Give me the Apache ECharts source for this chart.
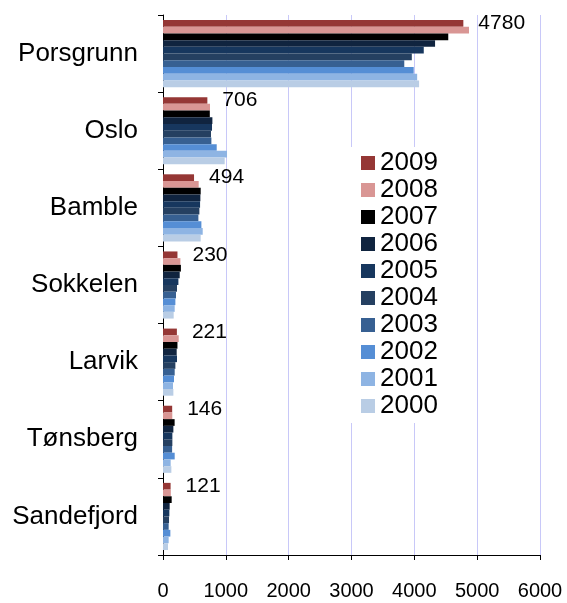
<!DOCTYPE html>
<html>
<head>
<meta charset="utf-8">
<script src="https://cdn.jsdelivr.net/npm/echarts@6/dist/echarts.min.js"></script>
<style>
  html, body { margin: 0; padding: 0; background: #fff; }
  #chart { width: 567px; height: 603px; }
</style>
</head>
<body>
<div id="chart"></div>
<script>
const places = ['Porsgrunn', 'Oslo', 'Bamble', 'Sokkelen', 'Larvik', 'Tønsberg', 'Sandefjord']
const years = ['2009', '2008', '2007', '2006', '2005', '2004', '2003', '2002', '2001', '2000']
const xTicks = [0, 1000, 2000, 3000, 4000, 5000, 6000]

// one list per year, same order as places
const v2009 = [4780, 706, 494, 230, 221, 146, 121]
const v2008 = [4870, 748, 568, 277, 250, 148, 125]
const v2007 = [4540, 745, 600, 285, 230, 185, 138]
const v2006 = [4330, 786, 595, 266, 218, 165, 106]
const v2005 = [4150, 780, 590, 245, 223, 149, 101]
const v2004 = [3960, 764, 579, 223, 197, 149, 96]
const v2003 = [3840, 770, 563, 207, 186, 145, 90]
const v2002 = [3990, 855, 611, 197, 175, 186, 117]
const v2001 = [4045, 1019, 632, 186, 159, 122, 90]
const v2000 = [4076, 982, 600, 170, 165, 133, 80]

const values = [v2009, v2008, v2007, v2006, v2005, v2004, v2003, v2002, v2001, v2000]
const colors = ['#953735', '#d99694', '#000000', '#10243f', '#17375e', '#254061', '#376092', '#558ed5', '#8eb4e3', '#b9cde5']

const font = 'Liberation Sans, Arial, sans-serif'
const chart = echarts.init(document.getElementById('chart'))

const series = years.map((y, i) => ({
  name: y,
  type: 'bar',
  data: values[i],
  itemStyle: { color: colors[i] },
  barGap: '0%',
  barCategoryGap: '13%',
  label: {
    show: i === 0,
    position: 'right',
    distance: 15,
    color: '#000',
    fontSize: 21,
    fontFamily: font
  }
}))

chart.setOption({
  animation: false,
  color: colors,
  grid: { left: 163, right: 27, top: 15, bottom: 48 },
  legend: {
    orient: 'vertical',
    left: 349,
    top: 147,
    padding: [3, 8, 4, 12],
    backgroundColor: '#fff',
    itemWidth: 14,
    itemHeight: 14,
    itemGap: 1,
    icon: 'rect',
    data: years,
    textStyle: { fontSize: 26, lineHeight: 26, color: '#000', fontFamily: font }
  },
  xAxis: {
    type: 'value',
    min: xTicks[0],
    max: xTicks[xTicks.length - 1],
    interval: 1000,
    axisLine: { show: true, lineStyle: { color: '#000' } },
    axisTick: { show: true, length: 5, lineStyle: { color: '#000' } },
    axisLabel: { fontSize: 20, color: '#000', fontFamily: font, margin: 26, formatter: v => String(v) },
    splitLine: { show: true, lineStyle: { color: '#c8c8f8' } }
  },
  yAxis: {
    type: 'category',
    data: places,
    inverse: true,
    axisLine: { show: true, lineStyle: { color: '#000' } },
    axisTick: { show: true, length: 5, lineStyle: { color: '#000' } },
    axisLabel: { fontSize: 26, color: '#000', fontFamily: font, margin: 25 }
  },
  series: series
})
</script>
</body>
</html>
